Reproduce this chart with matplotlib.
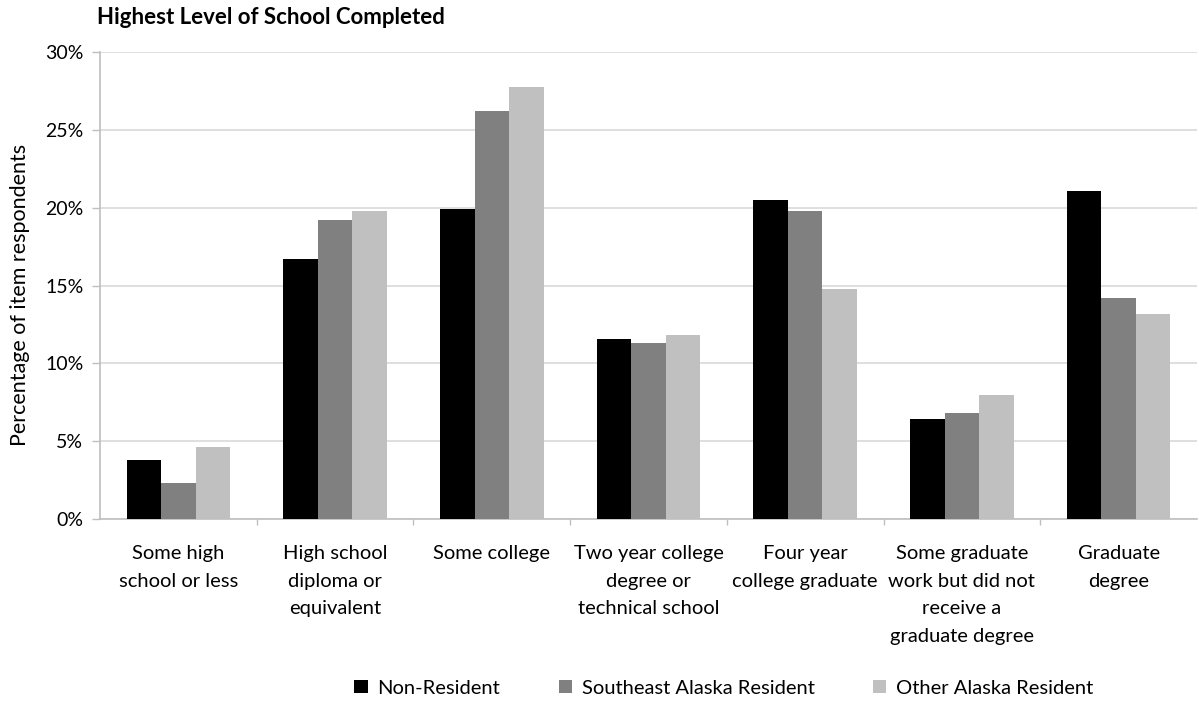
import matplotlib.pyplot as plt
import numpy as np

plt.rcParams['font.family'] = ['Lato', 'DejaVu Sans']

categories = ["Some high\nschool or less",
              "High school\ndiploma or\nequivalent",
              "Some college",
              "Two year college\ndegree or\ntechnical school",
              "Four year\ncollege graduate",
              "Some graduate\nwork but did not\nreceive a\ngraduate degree",
              "Graduate\ndegree"]

non_resident = [3.8, 16.7, 19.9, 11.6, 20.5, 6.4, 21.1]
southeast_res = [2.3, 19.2, 26.2, 11.3, 19.8, 6.8, 14.2]
other_ak_res = [4.6, 19.8, 27.8, 11.8, 14.8, 8.0, 13.2]

series = ["Non-Resident", "Southeast Alaska Resident", "Other Alaska Resident"]
colors = ["#000000", "#808080", "#c0c0c0"]

fig = plt.figure(figsize=(11.99, 7.03), dpi=100)
ax = fig.add_axes([100/1199, 1 - 519/703, 1097/1199, (519 - 52.3)/703])

x = np.arange(len(categories))
w = 0.22
for i, (vals, name) in enumerate(zip([non_resident, southeast_res, other_ak_res], series)):
    ax.bar(x + (i - 1)*w, vals, width=w, color=colors[i], label=name, zorder=3)

ax.set_xlim(-0.5, len(categories) - 0.5)
ax.set_ylim(0, 30)
ax.set_yticks(range(0, 31, 5))
ax.set_yticklabels([f"{v}%" for v in range(0, 31, 5)], fontsize=14)
ax.grid(axis='y', color='#d9d9d9', linewidth=1.2, zorder=0)

ax.set_xticks(x)
ax.set_xticklabels(categories, fontsize=14.5, linespacing=1.75, va='top')
ax.set_xticks(np.arange(0.5, len(categories) - 0.5, 1), minor=True)
ax.tick_params(axis='x', which='major', length=0, pad=19)
ax.tick_params(axis='x', which='minor', length=4, color='#bfbfbf', width=1)
ax.tick_params(axis='y', length=6, color='#bfbfbf', width=1, pad=6)

for s in ['top', 'right']:
    ax.spines[s].set_visible(False)
ax.spines['left'].set_color('#bfbfbf')
ax.spines['bottom'].set_color('#bfbfbf')
ax.spines['left'].set_linewidth(1.2)
ax.spines['bottom'].set_linewidth(1.2)

ax.set_ylabel("Percentage of item respondents", fontsize=15.5)
ax.yaxis.set_label_coords(-0.064, 0.48)

fig.text(97/1199, 1 - 18/703, "Highest Level of School Completed",
         fontsize=16, fontweight='bold', va='center', ha='left')

fig.legend(loc='center', bbox_to_anchor=(724/1199, 1 - 688/703), ncol=3,
           frameon=False, fontsize=14.5, handlelength=0.65, handleheight=0.65,
           handletextpad=0.5, columnspacing=2.9)

plt.savefig("out.png")
